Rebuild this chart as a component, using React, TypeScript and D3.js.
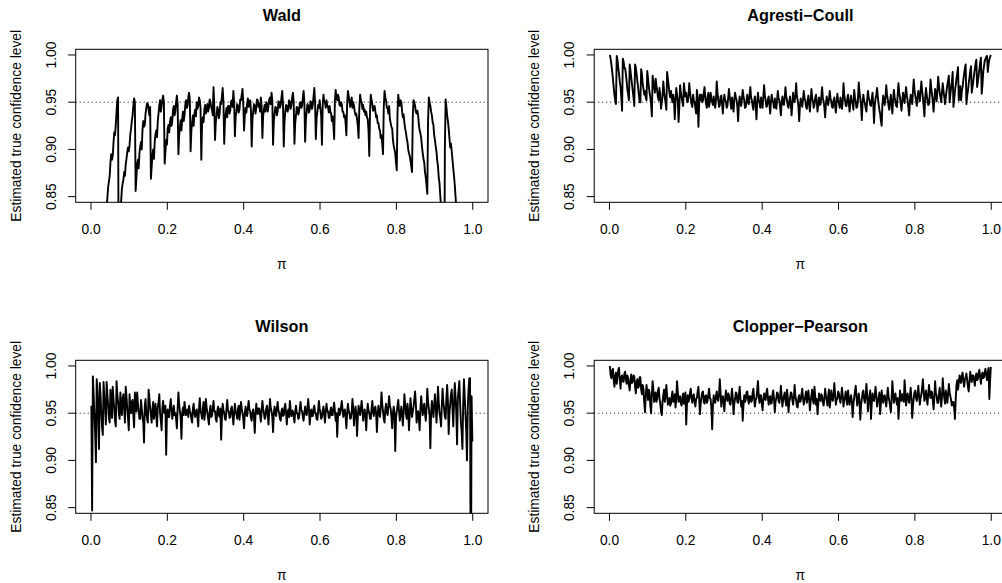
import React from "react";
import * as d3 from "d3";

// pi grid: first value and step (categories on the x axis)
const PI_START = 0.001;
const PI_STEP = 0.002;

// Estimated coverage, in per mille
const wald: number[] = [
  80,110,150,190,240,290,330,370,420,470,520,555,600,640,680,715,740,770,790,812,
  838,849,860,866,872,886,895,889,893,907,918,915,926,940,952,955,700,790,833,845,
  858,864,868,876,872,884,890,897,902,898,904,916,922,930,936,946,954,950,856,870,
  884,889,880,896,903,908,900,921,930,924,926,938,944,949,948,942,936,945,869,882,
  894,900,890,908,916,920,913,930,938,947,952,940,946,953,957,950,885,897,910,905,
  922,926,918,929,934,925,930,942,946,936,940,950,957,948,895,915,924,931,920,932,
  940,930,936,947,952,944,946,955,960,952,898,920,928,936,925,938,942,935,950,943,
  946,955,952,944,889,926,934,929,942,947,938,944,948,940,944,953,950,945,942,936,
  966,945,910,929,936,945,942,933,938,950,948,956,965,950,906,931,938,944,934,946,
  946,938,942,951,952,945,962,950,914,935,940,948,946,939,942,953,952,958,964,948,
  920,936,944,939,948,954,945,950,952,942,903,932,940,948,946,938,944,953,952,945,
  948,940,955,946,912,935,942,947,940,950,948,940,946,953,955,948,960,952,905,930,
  938,945,944,936,940,951,950,944,947,955,962,948,903,930,940,947,946,940,943,952,
  950,943,947,955,960,950,906,928,936,945,944,937,940,949,950,944,946,955,962,950,
  908,932,940,948,946,939,942,951,950,943,947,956,965,950,911,933,940,947,944,952,
  944,936,905,946,958,951,950,944,952,946,945,939,946,940,938,930,935,926,911,952,
  963,955,952,958,955,947,946,950,948,940,940,934,936,928,915,948,962,957,952,945,
  950,955,944,950,946,940,936,938,932,925,912,944,958,952,950,943,947,940,942,936,
  940,934,932,920,893,940,958,952,948,941,944,946,940,934,936,928,928,922,920,912,
  915,906,895,945,962,955,952,944,944,938,946,932,928,924,922,910,904,900,896,886,
  878,940,958,950,946,952,950,940,934,937,928,922,918,912,908,900,896,893,888,882,
  876,935,952,950,946,940,938,941,936,926,920,917,912,903,896,890,886,876,870,862,
  853,930,955,950,946,940,936,929,926,915,910,903,898,888,882,870,864,851,840,836,
  835,820,700,900,953,945,936,930,922,912,902,906,898,889,880,872,862,850,838,825,
  790,765,740,710,680,640,600,560,520,470,420,375,330,285,240,195,150,110,80,50,
];

const agrestiCoull: number[] = [
  1000,996,990,983,975,966,958,952,948,999,995,987,980,972,966,955,941,996,993,986,
  986,980,972,963,958,952,990,984,976,969,962,955,946,990,987,980,972,966,958,950,
  950,985,980,970,964,958,962,955,952,983,975,967,960,955,948,935,978,972,966,960,
  975,968,962,955,952,965,958,943,950,956,972,962,955,949,942,982,975,968,960,955,
  962,955,950,958,952,932,950,965,958,952,929,945,968,960,955,950,946,970,962,956,
  960,952,950,957,970,960,954,948,945,958,952,950,944,938,963,955,924,948,958,952,
  958,950,952,960,966,955,948,944,955,960,945,952,960,954,950,947,956,949,944,953,
  972,960,952,945,947,956,957,948,938,950,958,952,951,944,946,955,964,955,950,943,
  955,948,940,953,960,955,952,945,930,948,956,950,946,954,963,956,952,944,945,951,
  958,950,948,957,966,955,952,946,942,951,956,947,932,950,960,952,950,944,955,949,
  944,956,968,957,952,945,946,953,956,948,938,950,958,951,950,944,954,947,943,952,
  962,954,952,945,936,950,956,948,947,955,966,956,952,946,944,951,956,948,936,948,
  960,952,950,958,970,956,952,945,930,947,954,949,945,953,962,954,952,945,943,951,
  957,948,940,952,964,954,951,944,947,955,958,950,940,948,955,947,948,956,966,954,
  951,944,934,948,956,950,947,953,962,954,951,945,944,952,955,946,939,950,959,951,
  949,944,955,950,943,951,970,958,952,946,946,954,958,949,940,950,957,951,948,942,
  963,955,951,944,945,953,971,960,954,946,931,950,958,952,949,944,940,952,962,955,
  952,947,946,953,960,948,928,946,954,958,965,955,948,942,938,930,925,948,957,950,
  947,955,968,958,953,946,942,951,958,947,938,952,963,955,951,946,945,958,970,960,
  955,948,941,952,960,954,949,958,966,957,952,944,936,950,958,953,948,962,974,963,
  957,952,946,955,962,956,951,962,972,962,955,946,935,955,965,958,952,947,948,958,
  974,965,958,950,940,952,964,958,951,962,977,968,960,955,950,961,970,962,956,948,
  955,962,968,973,978,950,958,966,972,982,945,953,962,968,975,981,987,952,960,967,
  952,962,966,974,980,986,990,948,957,962,970,976,983,988,960,966,972,979,985,991,
  995,966,972,978,985,992,997,959,968,982,988,994,996,998,999,982,990,995,998,1000,
];

const wilson: number[] = [
  958,847,989,970,950,928,898,986,972,945,912,982,970,950,935,927,983,966,955,938,
  983,970,958,945,940,975,962,945,978,965,955,942,936,984,970,962,950,944,972,958,
  948,966,970,955,940,978,968,955,945,932,970,958,950,962,964,948,935,972,960,952,
  972,960,952,944,944,964,955,947,940,919,958,965,950,944,940,975,966,955,948,940,
  955,962,944,952,960,948,936,956,962,970,950,942,932,955,963,952,950,958,906,950,
  954,946,946,958,965,955,944,950,958,948,950,944,934,955,972,960,952,945,923,950,
  956,948,962,955,948,953,954,946,958,952,950,944,940,955,960,950,946,952,954,945,
  936,955,966,952,950,944,955,962,943,950,965,956,950,944,938,952,958,946,947,955,
  963,952,952,944,941,953,957,948,946,955,922,945,960,953,950,944,943,955,964,952,
  952,945,946,955,957,948,938,950,960,952,949,944,954,958,943,952,962,955,950,944,
  934,950,957,949,947,955,963,954,952,945,942,951,954,946,929,948,960,952,949,955,
  955,948,941,952,963,955,950,944,946,955,958,949,938,952,965,955,952,946,930,950,
  957,950,947,955,962,953,950,944,942,952,955,947,948,956,960,950,938,950,954,946,
  963,954,947,953,952,946,940,952,958,950,950,944,945,955,962,953,952,946,942,951,
  957,949,948,956,965,955,938,948,954,947,947,955,958,950,950,944,943,952,963,955,
  950,944,946,953,957,948,940,952,960,952,952,945,945,953,956,948,948,955,961,952,
  942,950,925,946,955,948,950,957,963,954,946,952,954,946,934,950,960,953,950,944,
  945,952,965,955,937,950,957,949,926,946,958,952,948,955,963,953,942,950,954,946,
  932,950,960,953,950,944,944,955,963,952,947,955,957,949,930,948,958,951,946,955,
  972,960,952,944,940,954,960,952,948,957,968,958,955,946,934,950,957,950,910,945,
  952,958,964,952,942,950,957,948,937,952,970,960,950,944,960,952,932,950,966,955,
  946,952,957,965,973,960,940,948,952,944,932,955,968,957,948,955,960,950,942,955,
  976,962,955,948,913,950,963,955,946,958,970,958,940,955,978,962,950,945,936,958,
  976,962,955,946,944,966,980,962,928,950,960,970,975,955,936,960,982,968,950,917,
  965,975,984,960,940,930,912,960,986,968,950,930,900,955,975,987,987,700,968,920,
];

const clopperPearson: number[] = [
  1000,990,987,995,997,985,978,990,993,981,988,996,998,986,976,988,990,984,983,992,
  994,986,981,990,987,979,974,985,991,982,984,990,989,978,971,983,986,977,978,988,
  988,975,970,980,976,962,951,968,980,972,964,975,972,958,950,970,984,975,962,968,
  972,962,965,974,977,966,960,952,948,962,969,975,962,970,980,968,959,965,966,958,
  960,968,973,962,963,970,956,965,984,972,962,967,968,960,958,966,971,960,964,972,
  938,960,969,962,965,972,976,966,961,968,970,962,957,965,966,973,978,965,949,960,
  967,972,973,962,960,968,969,961,963,970,976,966,965,955,933,958,969,962,961,968,
  973,965,963,970,986,972,957,966,968,962,952,965,974,966,963,971,969,960,959,967,
  976,966,949,960,965,972,971,962,961,969,978,966,957,963,942,958,969,962,964,972,
  973,965,960,968,968,962,963,972,976,965,957,964,966,975,984,968,961,969,969,960,
  953,964,971,965,964,972,976,966,959,967,968,960,961,970,974,965,951,962,966,972,
  971,963,961,968,979,968,957,964,968,972,963,958,975,967,951,962,966,972,971,964,
  959,966,980,968,964,957,956,966,969,962,963,970,976,966,959,964,968,973,961,967,
  974,965,953,962,969,975,964,960,978,968,959,965,949,960,971,965,963,970,968,961,
  958,966,976,968,964,958,969,975,956,963,974,967,963,970,982,970,959,964,966,973,
  971,965,961,968,977,968,957,964,968,973,963,959,974,966,959,965,969,962,946,960,
  966,973,979,968,958,965,971,963,943,958,965,972,974,965,961,968,981,970,952,962,
  968,974,944,960,971,965,963,970,978,968,957,963,966,972,949,960,974,966,961,968,
  969,963,957,966,977,968,963,958,951,965,984,972,961,967,971,964,959,966,944,958,
  974,966,963,970,968,962,985,972,958,966,971,965,961,968,977,966,945,958,966,972,
  974,966,963,970,979,968,959,966,970,977,986,972,963,968,974,965,959,970,980,971,
  966,973,972,963,954,966,984,972,968,961,961,970,977,966,957,968,987,974,966,960,
  974,968,961,970,981,972,968,963,958,962,962,955,944,965,980,985,975,982,990,984,
  982,990,993,985,978,986,988,992,985,978,973,984,994,988,983,990,990,985,979,988,
  992,985,986,993,996,988,981,990,993,987,988,994,997,990,985,993,998,965,984,999,
];

const titles: string[] = ["Wald", "Agresti\u2212Coull", "Wilson", "Clopper\u2212Pearson"];
const seriesList: number[][] = [wald, agrestiCoull, wilson, clopperPearson];

const xTicks: number[] = [0, 0.2, 0.4, 0.6, 0.8, 1.0];
const xTickLabels: string[] = ["0.0", "0.2", "0.4", "0.6", "0.8", "1.0"];
const yTicks: number[] = [0.85, 0.9, 0.95, 1.0];
const yTickLabels: string[] = ["0.85", "0.90", "0.95", "1.00"];
const nominal = 0.95;

const yLabel = "Estimated true confidence level";
const xLabel = "\u03c0";

const W = 1002;
const H = 583;
const FONT = "'Liberation Sans', Arial, Helvetica, sans-serif";

// panel layout (page pixels)
const panelDX = [0, 518.5, 0, 518.5];
const panelDY = [0, 0, 311, 311];

export default function App() {
  const x = d3.scaleLinear().domain([-0.04, 1.04]).range([75.7, 488]);
  const y = d3.scaleLinear().domain([0.844, 1.006]).range([202.3, 49.3]);
  const [x0, x1] = x.range();
  const [yb, yt] = y.range();

  return (
    <svg
      width={W}
      height={H}
      style={{ position: "absolute", left: 0, top: 0, background: "#fff" }}
      fontFamily={FONT}
    >
      <rect x={0} y={0} width={W} height={H} fill="#fff" />
      {seriesList.map((vals, p) => {
        const line = d3
          .line<number>()
          .x((_, i) => x(PI_START + i * PI_STEP))
          .y((v) => y(v / 1000));
        const cx = (x0 + x1) / 2;
        return (
          <g key={p} transform={`translate(${panelDX[p]},${panelDY[p]})`}>
            <defs>
              <clipPath id={`clip${p}`}>
                <rect x={x0} y={yt} width={x1 - x0} height={yb - yt} />
              </clipPath>
            </defs>
            <text x={cx} y={15} fontSize={16.3} fontWeight="bold" textAnchor="middle" dominantBaseline="central">
              {titles[p]}
            </text>
            <g clipPath={`url(#clip${p})`}>
              <line
                x1={x0}
                x2={x1}
                y1={y(nominal)}
                y2={y(nominal)}
                stroke="#000"
                strokeWidth={1}
                strokeDasharray="1,3"
              />
              <path d={line(vals) || ""} fill="none" stroke="#000" strokeWidth={1.9} strokeLinejoin="round" />
            </g>
            <rect x={x0} y={yt} width={x1 - x0} height={yb - yt} fill="none" stroke="#000" strokeWidth={1} />
            {xTicks.map((t, k) => (
              <g key={k}>
                <line x1={x(t)} x2={x(t)} y1={yb} y2={yb + 7.5} stroke="#000" strokeWidth={1} />
                <text x={x(t)} y={229} fontSize={13.8} textAnchor="middle" dominantBaseline="central">
                  {xTickLabels[k]}
                </text>
              </g>
            ))}
            {yTicks.map((t, k) => (
              <g key={k}>
                <line x1={x0 - 7.5} x2={x0} y1={y(t)} y2={y(t)} stroke="#000" strokeWidth={1} />
                <text
                  transform={`translate(51,${y(t)}) rotate(-90)`}
                  fontSize={13.8}
                  textAnchor="middle"
                  dominantBaseline="central"
                >
                  {yTickLabels[k]}
                </text>
              </g>
            ))}
            <text
              transform={`translate(16,${(yt + yb) / 2}) rotate(-90)`}
              fontSize={13.8}
              textAnchor="middle"
              dominantBaseline="central"
            >
              {yLabel}
            </text>
            <text x={cx} y={264.3} fontSize={13.8} textAnchor="middle" dominantBaseline="central">
              {xLabel}
            </text>
          </g>
        );
      })}
    </svg>
  );
}
